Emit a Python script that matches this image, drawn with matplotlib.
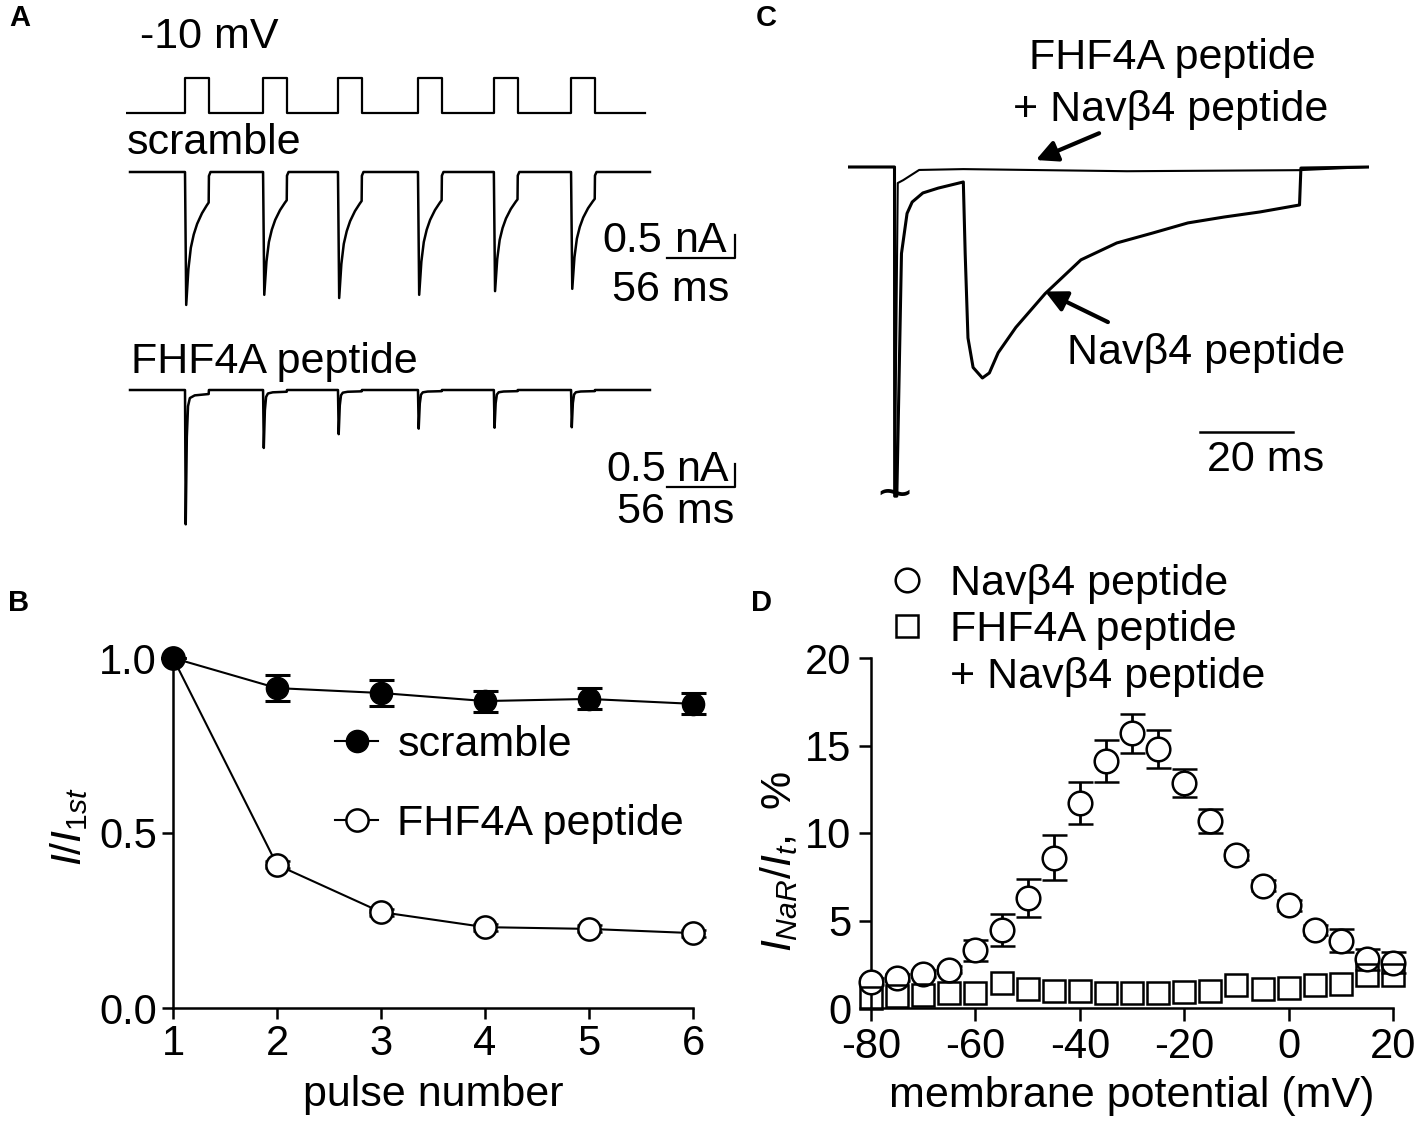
import numpy as np
import matplotlib
matplotlib.use('Agg')
import matplotlib.pyplot as plt
from matplotlib.lines import Line2D

plt.rcParams['font.family'] = ['Liberation Sans', 'DejaVu Sans']
plt.rcParams['mathtext.fontset'] = 'custom'
plt.rcParams['mathtext.rm'] = 'Liberation Sans'
plt.rcParams['mathtext.it'] = 'Liberation Sans:italic'
plt.rcParams['axes.unicode_minus'] = False

W, H = 1418, 1129

# ---------------- data ----------------
# panel A: voltage protocol (ms / mV)
pulse_onsets = [48.6, 112.9, 174.6, 240.5, 303.0, 366.6]
pulse_width = 19.5
hold_mv = -80
test_mv = -10
protocol_end = 427.5
trace_start = 3.3
trace_end = 431.6

# peak current per pulse (nA)
scramble_peaks = [2.89, 2.67, 2.74, 2.67, 2.59, 2.54]
fhf4a_peaks = [2.92, 1.26, 0.96, 0.84, 0.82, 0.81]

# shape of one current response (ms after onset, fraction of peak)
scramble_shape_t = [0, 1.0, 2.8, 4.8, 7.2, 10, 14, 18, 19.5, 19.7, 21]
scramble_shape_i = [0, -1, -0.73, -0.57, -0.47, -0.39, -0.31, -0.25, -0.23, -0.03, 0]
fhf4a_shape_t = [0, 0.6, 1.5, 2.5, 4, 8, 19.5, 19.7]
fhf4a_shape_i = [0, -1, -0.35, -0.12, -0.06, -0.04, -0.03, 0]

# panel C: resurgent current traces (ms, normalised current)
navb4_t = [0, 10.0, 10.05, 10.5, 11.5, 12.7, 13.8, 16.1, 19.4, 24.8, 25.2, 25.8, 26.9,
           28.9, 30.4, 32.3, 36.1, 42.4, 50.1, 57.8, 65.5, 73.1, 80.9, 88.6, 97.1, 97.4, 112]
navb4_i = [0, 0, -1.56, -1.56, -0.41, -0.22, -0.166, -0.123, -0.10, -0.071, -0.41, -0.81, -0.95,
           -1.0, -0.976, -0.88, -0.76, -0.60, -0.44, -0.36, -0.313, -0.265, -0.237, -0.213, -0.18, -0.005, 0]
fhf_navb4_t = [0, 10.0, 10.05, 10.7, 11.9, 15.3, 24.8, 60, 97, 112]
fhf_navb4_i = [0, 0, -1.56, -0.076, -0.062, -0.014, -0.01, -0.02, -0.015, 0]

# panel B
pulse_number = [1, 2, 3, 4, 5, 6]
scramble_mean = [1.0, 0.914, 0.90, 0.877, 0.883, 0.869]
scramble_sem = [0, 0.037, 0.037, 0.03, 0.03, 0.03]
fhf4a_mean = [1.0, 0.409, 0.274, 0.231, 0.226, 0.214]
fhf4a_sem = [0, 0.01, 0.01, 0.01, 0.01, 0.01]

# panel D
potential = [-80, -75, -70, -65, -60, -55, -50, -45, -40, -35, -30, -25, -20, -15, -10, -5, 0, 5, 10, 15, 20]
navb4_mean = [1.5, 1.73, 1.96, 2.2, 3.3, 4.46, 6.3, 8.6, 11.7, 14.1, 15.7, 14.8, 12.85, 10.7,
              8.75, 7.0, 5.87, 4.46, 3.85, 2.8, 2.6]
navb4_sem = [0.2, 0.2, 0.2, 0.2, 0.6, 0.9, 1.1, 1.3, 1.2, 1.2, 1.1, 1.1, 0.8, 0.7,
             0.3, 0.3, 0.3, 0.3, 0.65, 0.6, 0.6]
fhf_navb4_mean = [0.6, 0.7, 0.77, 0.83, 0.87, 1.45, 1.06, 0.96, 0.96, 0.87, 0.87, 0.87, 0.92, 0.96,
                  1.3, 1.1, 1.15, 1.3, 1.38, 1.9, 1.9]

FS = 31
TICK_FS = 30

fig = plt.figure(figsize=(W / 100, H / 100), dpi=100)


def px_axes(x0, y0, x1, y1):
    return fig.add_axes([x0 / W, 1 - y1 / H, (x1 - x0) / W, (y1 - y0) / H])


def ftext(x, y, s, **kw):
    kw.setdefault('fontsize', FS)
    fig.text(x / W, 1 - y / H, s, **kw)


def build_trace(peaks, shape_t, shape_i):
    t = [trace_start]
    cur = [0.0]
    for onset, peak in zip(pulse_onsets, peaks):
        t.extend(onset + np.array(shape_t))
        cur.extend(peak * np.array(shape_i))
    t.append(trace_end)
    cur.append(0.0)
    return t, cur


# ---------------- panel A ----------------
px_per_ms_a = 1.214
a_x0, a_x1 = 126, 750
a_xlim = (0, (a_x1 - a_x0) / px_per_ms_a)

# protocol
axp = px_axes(a_x0, 65, a_x1, 125)
prot_t = [0]
prot_v = [hold_mv]
for onset in pulse_onsets:
    prot_t += [onset, onset, onset + pulse_width, onset + pulse_width]
    prot_v += [hold_mv, test_mv, test_mv, hold_mv]
prot_t.append(protocol_end)
prot_v.append(hold_mv)
axp.plot(prot_t, prot_v, color='black', lw=1.6)
axp.set_xlim(a_xlim)
axp.set_ylim(-104, 16)
axp.axis('off')

px_per_na = 46.0
# scramble trace
axs = px_axes(a_x0, 150, a_x1, 320)
t, cur = build_trace(scramble_peaks, scramble_shape_t, scramble_shape_i)
axs.plot(t, cur, color='black', lw=1.8)
axs.set_xlim(a_xlim)
axs.set_ylim(-(320 - 172) / px_per_na, (172 - 150) / px_per_na)
axs.axis('off')
bar_y = -(258 - 172) / px_per_na
axs.plot([445.6, 501.6, 501.6], [bar_y, bar_y, bar_y + 0.5], color='black', lw=1.6, clip_on=False)

# FHF4A trace
axf = px_axes(a_x0, 375, a_x1, 540)
t, cur = build_trace(fhf4a_peaks, fhf4a_shape_t, fhf4a_shape_i)
axf.plot(t, cur, color='black', lw=1.8)
axf.set_xlim(a_xlim)
axf.set_ylim(-(540 - 390) / px_per_na, (390 - 375) / px_per_na)
axf.axis('off')
bar_y = -(487 - 390) / px_per_na
axf.plot([445.6, 501.6, 501.6], [bar_y, bar_y, bar_y + 0.5], color='black', lw=1.6, clip_on=False)

ftext(140, 37, '-10 mV', ha='left', va='center')
ftext(127, 143, 'scramble', ha='left', va='center')
ftext(131, 362, 'FHF4A peptide', ha='left', va='center')
ftext(632, 241, '0.5', ha='center', va='center')
ftext(700, 241, 'nA', ha='center', va='center')
ftext(671, 290, '56 ms', ha='center', va='center')
ftext(636, 470, '0.5', ha='center', va='center')
ftext(702, 470, 'nA', ha='center', va='center')
ftext(676, 512, '56 ms', ha='center', va='center')

# ---------------- panel C ----------------
px_per_ms_c = 4.65
c_x0, c_x1 = 848, 1369
c_base = 167
c_unit = 211.0
axc = px_axes(c_x0, 120, c_x1, 510)
axc.plot(navb4_t, navb4_i, color='black', lw=2.2)
axc.plot(fhf_navb4_t, fhf_navb4_i, color='black', lw=1.5)
axc.set_xlim(0, (c_x1 - c_x0) / px_per_ms_c)
axc.set_ylim(-(510 - c_base) / c_unit, (c_base - 120) / c_unit)
axc.axis('off')
sb_y = -(432 - c_base) / c_unit
axc.plot([75.7, 95.7], [sb_y, sb_y], color='black', lw=1.8)
axc.text(10.0, -(497 - c_base) / c_unit, '~', fontsize=42, ha='center', va='center')
arrow = dict(arrowstyle='-|>', lw=3, color='black', mutation_scale=32, shrinkA=0, shrinkB=0)
axc.annotate('', xy=(40.4, 0.033), xytext=(54.0, 0.16), arrowprops=arrow, annotation_clip=False)
axc.annotate('', xy=(42.4, -0.59), xytext=(55.9, -0.735), arrowprops=arrow, annotation_clip=False)

ftext(1172, 58, 'FHF4A peptide', ha='center', va='center')
ftext(1171, 110, '+ Nav\u03b24 peptide', ha='center', va='center')
ftext(1206, 353, 'Nav\u03b24 peptide', ha='center', va='center')
ftext(1266, 460, '20 ms', ha='center', va='center')


def style_axes(ax, length=8, pad=3.6):
    for side in ['top', 'right']:
        ax.spines[side].set_visible(False)
    for side in ['left', 'bottom']:
        ax.spines[side].set_linewidth(1.8)
    ax.tick_params(width=1.8, length=length, labelsize=TICK_FS, pad=pad)


# ---------------- panel B ----------------
axb = px_axes(173, 658, 693, 1008)
axb.errorbar(pulse_number, fhf4a_mean, yerr=fhf4a_sem, fmt='-o', color='black',
             mfc='white', mew=1.8, ms=16, lw=1.5, elinewidth=2.2, capsize=9, capthick=2.2,
             clip_on=False, zorder=3)
axb.errorbar(pulse_number, scramble_mean, yerr=scramble_sem, fmt='-o', color='black',
             mfc='black', ms=16, lw=1.5, elinewidth=2.2, capsize=9, capthick=2.2,
             clip_on=False, zorder=4)
axb.set_xlim(1, 6)
axb.set_ylim(0, 1.0)
axb.set_xticks(pulse_number)
axb.set_yticks([0.0, 0.5, 1.0])
axb.set_yticklabels(['0.0', '0.5', '1.0'])
style_axes(axb)
axb.set_xlabel('pulse number', fontsize=FS, labelpad=8)
axb.set_ylabel('$I/I_{1st}$', fontsize=FS)
axb.yaxis.set_label_coords(-0.16, 0.52)
hb = [Line2D([], [], color='black', marker='o', ms=16, mfc='black', lw=1.5),
      Line2D([], [], color='black', marker='o', ms=16, mfc='white', mew=1.8, lw=1.5)]
axb.legend(hb, ['scramble', 'FHF4A peptide'], loc='upper left',
           bbox_to_anchor=(335 / W, 1 - 725 / H), bbox_transform=fig.transFigure,
           frameon=False, fontsize=FS, handlelength=1.0, handletextpad=0.45,
           labelspacing=0.9, borderpad=0, borderaxespad=0)

# ---------------- panel D ----------------
axd = px_axes(871, 658, 1393, 1008)
axd.errorbar(potential, navb4_mean, yerr=navb4_sem, fmt='o', color='black', mfc='white',
             mew=1.8, ms=17, elinewidth=2.0, capsize=9, capthick=2.0, clip_on=False, zorder=3)
axd.plot(potential, fhf_navb4_mean, 's', color='black', mfc='none', mew=1.8, ms=15.5,
         clip_on=False, zorder=4)
axd.set_xlim(-80, 20)
axd.set_ylim(0, 20)
axd.set_xticks([-80, -60, -40, -20, 0, 20])
axd.set_yticks([0, 5, 10, 15, 20])
style_axes(axd, length=9, pad=5)
axd.set_xlabel('membrane potential (mV)', fontsize=FS, labelpad=6)
axd.set_ylabel('$I_{NaR}/I_{t}$,  %', fontsize=FS)
axd.yaxis.set_label_coords(-0.135, 0.42)
hd = [Line2D([], [], color='black', marker='o', ms=17, mfc='white', mew=1.8, ls='none'),
      Line2D([], [], color='black', marker='s', ms=15.5, mfc='none', mew=1.8, ls='none'),
      Line2D([], [], color='none', ls='none')]
axd.legend(hd, ['Nav\u03b24 peptide', 'FHF4A peptide', '+ Nav\u03b24 peptide'], loc='upper left',
           bbox_to_anchor=(885 / W, 1 - 564 / H), bbox_transform=fig.transFigure,
           frameon=False, fontsize=FS, handlelength=1.0, handletextpad=0.5,
           labelspacing=0.15, borderpad=0, borderaxespad=0)

# panel letters
for letter, x, y in [('A', 20, 18), ('B', 19, 603), ('C', 766, 18), ('D', 761, 603)]:
    ftext(x, y, letter, fontsize=21, fontweight='bold', ha='center', va='center')

fig.savefig('out.png', dpi=100)
